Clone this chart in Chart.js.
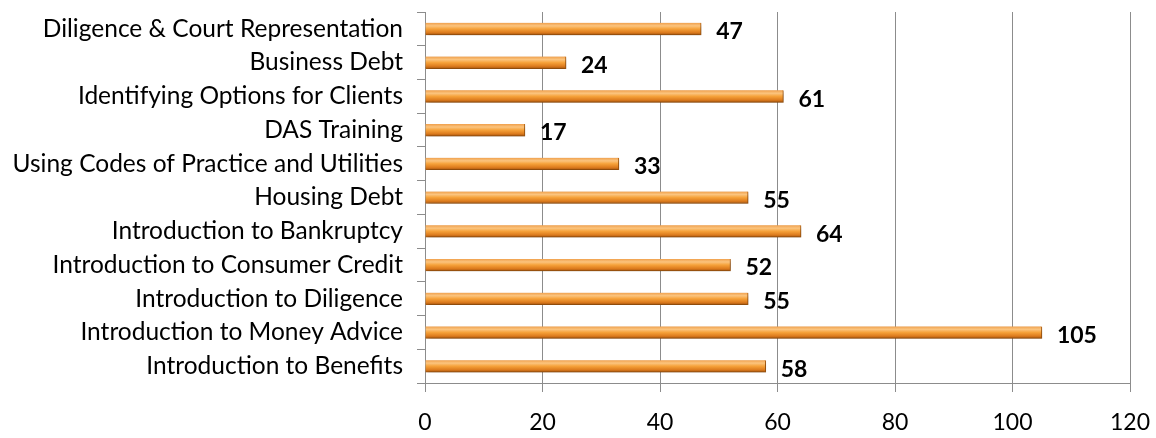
<!DOCTYPE html>
<html>
<head>
<meta charset="utf-8">
<script src="https://cdn.jsdelivr.net/npm/chart.js@4/dist/chart.umd.min.js"></script>
<style>
  html, body { margin: 0; padding: 0; background: #fff; }
  #wrap { width: 1156px; height: 438px; position: relative; }
</style>
</head>
<body>
<div id="wrap"><canvas id="chart"></canvas></div>
<script>
// categories, top to bottom as in the picture
const courses = [
  'Diligence & Court Representation',
  'Business Debt',
  'Identifying Options for Clients',
  'DAS Training',
  'Using Codes of Practice and Utilities',
  'Housing Debt',
  'Introduction to Bankruptcy',
  'Introduction to Consumer Credit',
  'Introduction to Diligence',
  'Introduction to Money Advice',
  'Introduction to Benefits'
];
const attendees = [47, 24, 61, 17, 33, 55, 64, 52, 55, 105, 58];
const xTicks = [0, 20, 40, 60, 80, 100, 120];

const FONT = "Lato, 'Open Sans', sans-serif";

// orange tube look, like the office chart
function barFill(context) {
  const chart = context.chart;
  const y = chart.scales.y;
  if (!y || context.dataIndex === undefined) return '#f39a30';
  const cy = y.getPixelForValue(context.dataIndex);
  if (!isFinite(cy)) return '#f39a30';
  const g = chart.ctx.createLinearGradient(0, cy - 6, 0, cy + 6);
  g.addColorStop(0, '#f0a04c');
  g.addColorStop(0.25, '#fbc47e');
  g.addColorStop(0.5, '#f6a23a');
  g.addColorStop(0.8, '#dd7c1e');
  g.addColorStop(1, '#a9570f');
  return g;
}

const valueLabels = {
  id: 'valueLabels',
  afterDatasetsDraw(chart) {
    const ctx = chart.ctx;
    const meta = chart.getDatasetMeta(0);
    ctx.save();
    ctx.font = "bold 23px " + FONT;
    ctx.fillStyle = '#000';
    ctx.textBaseline = 'middle';
    ctx.textAlign = 'left';
    meta.data.forEach((bar, i) => {
      ctx.fillText(String(attendees[i]), bar.x + 15, bar.y + 3);
    });
    ctx.restore();
  }
};

const barShadow = {
  id: 'barShadow',
  beforeDatasetsDraw(chart) {
    const ctx = chart.ctx;
    ctx.save();
    ctx.shadowColor = 'rgba(0,0,0,0.3)';
    ctx.shadowBlur = 4;
    ctx.shadowOffsetX = 2;
    ctx.shadowOffsetY = 2;
  },
  afterDatasetsDraw(chart) {
    chart.ctx.restore();
  }
};

new Chart(document.getElementById('chart'), {
  type: 'bar',
  data: {
    labels: courses,
    datasets: [{
      data: attendees,
      backgroundColor: barFill,
      borderColor: '#b8620f',
      borderWidth: { top: 0, bottom: 1, left: 0, right: 1 },
      barThickness: 12
    }]
  },
  options: {
    indexAxis: 'y',
    responsive: true,
    maintainAspectRatio: false,
    animation: false,
    layout: { padding: { top: 12, right: 26, left: 0, bottom: 0 } },
    plugins: { legend: { display: false }, tooltip: { enabled: false } },
    scales: {
      x: {
        min: 0, max: 120,
        afterBuildTicks(scale) { scale.ticks = xTicks.map(v => ({ value: v })); },
        afterFit(scale) {
          scale.height = 55;
          scale.paddingLeft = 0; scale.paddingRight = 0;
        },
        grid: { color: '#8c8c8c', lineWidth: 1, tickLength: 9, drawTicks: true },
        border: { color: '#8c8c8c' },
        ticks: { color: '#000', font: { size: 23, family: FONT }, padding: 17 }
      },
      y: {
        afterFit(scale) {
          scale.width = 425;
          scale.paddingTop = 0; scale.paddingBottom = 0;
        },
        grid: { drawOnChartArea: false, color: '#8c8c8c', tickLength: 8 },
        border: { color: '#8c8c8c' },
        ticks: { color: '#000', font: { size: 24.5, family: FONT }, padding: 14, autoSkip: false }
      }
    }
  },
  plugins: [barShadow, valueLabels]
});
</script>
</body>
</html>
